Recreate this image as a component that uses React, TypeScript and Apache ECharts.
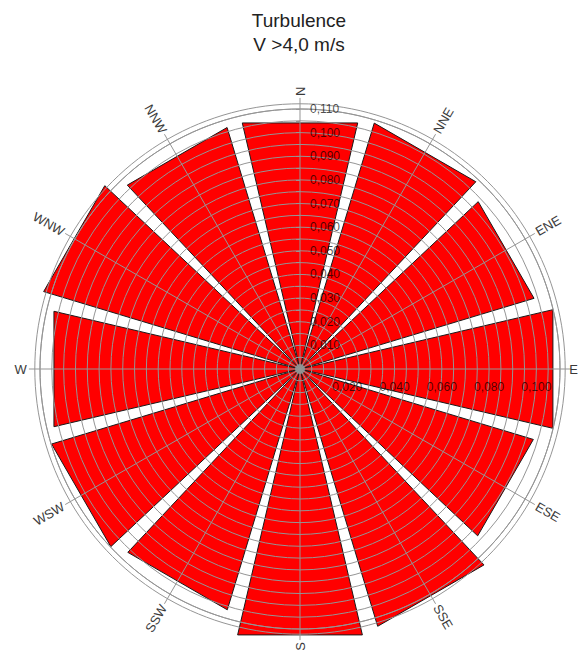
import React, { useEffect, useRef } from 'react';
import * as echarts from 'echarts';

const titleLines = ['Turbulence', 'V >4,0 m/s'];
const directions = ['N', 'NNE', 'ENE', 'E', 'ESE', 'SSE', 'S', 'SSW', 'WSW', 'W', 'WNW', 'NNW'];
const bearings = [0, 30, 60, 90, 120, 150, 180, 210, 240, 270, 300, 330];
const turbulence = [0.1041, 0.1058, 0.1007, 0.107, 0.1004, 0.1107, 0.1125, 0.1036, 0.1069, 0.1041, 0.1103, 0.1039];
const northTickValues = [0.01, 0.02, 0.03, 0.04, 0.05, 0.06, 0.07, 0.08, 0.09, 0.1, 0.11];
const northTickLabels = ['0,010', '0,020', '0,030', '0,040', '0,050', '0,060', '0,070', '0,080', '0,090', '0,100', '0,110'];
const eastTickValues = [0.02, 0.04, 0.06, 0.08, 0.1];
const eastTickLabels = ['0,020', '0,040', '0,060', '0,080', '0,100'];

const RADIUS_MAX = 0.11;
const SPOKE_R = 0.1147;
const FRAME_R = 0.1122;
const HALF_SECTOR = 13.2;
const FONT = 'Liberation Sans, Arial, Helvetica, sans-serif';
const GRID = '#959595';
const PAGE_W = 579;

const charW: Record<string, number> = { N: 0.722, E: 0.667, S: 0.667, W: 0.944 };

export default function App() {
  const ref = useRef<HTMLDivElement>(null);
  useEffect(() => {
    if (!ref.current) return;
    const chart = echarts.init(ref.current, undefined, { renderer: 'svg' });
    const option: any = {
      animation: false,
      backgroundColor: '#ffffff',
      graphic: titleLines.map((t, i) => ({
        type: 'text',
        x: 299,
        y: 20 + i * 24,
        style: {
          text: t,
          fill: '#222',
          fontSize: 19,
          fontFamily: FONT,
          align: 'center',
          verticalAlign: 'middle',
        },
      })),
      polar: { center: [300, 369], radius: 260 },
      angleAxis: {
        type: 'value',
        min: 0,
        max: 360,
        startAngle: 90,
        clockwise: true,
        z: 3,
        axisLine: { show: true, lineStyle: { color: GRID, width: 1 } },
        axisTick: { show: false },
        axisLabel: { show: false },
        splitLine: { show: false },
      },
      radiusAxis: {
        type: 'value',
        min: 0,
        max: RADIUS_MAX,
        interval: 0.005,
        z: 3,
        axisLine: { show: false },
        axisTick: { show: true, length: 4, lineStyle: { color: GRID } },
        axisLabel: { show: false },
        splitLine: { show: true, lineStyle: { color: GRID, width: 1 } },
      },
      series: [
        {
          type: 'custom',
          coordinateSystem: 'polar',
          z: 2,
          data: bearings.map((b, i) => [turbulence[i], b]),
          renderItem: (params: any, api: any) => {
            const v = api.value(0);
            const b = api.value(1);
            const rc = v / Math.cos((HALF_SECTOR * Math.PI) / 180);
            const c = api.coord([0, b]);
            const p1 = api.coord([rc, b - HALF_SECTOR]);
            const p2 = api.coord([rc, b + HALF_SECTOR]);
            return {
              type: 'polygon',
              shape: { points: [c, p1, p2] },
              style: { fill: '#ff0000', stroke: '#1a1a1a', lineWidth: 1 },
            };
          },
        },
        {
          type: 'custom',
          coordinateSystem: 'polar',
          z: 4,
          silent: true,
          data: [[FRAME_R, 0]],
          renderItem: (params: any, api: any) => {
            const c = api.coord([0, 0]);
            const p = api.coord([api.value(0), 0]);
            const r = Math.hypot(p[0] - c[0], p[1] - c[1]);
            return {
              type: 'group',
              children: [
                { type: 'circle', shape: { cx: c[0], cy: c[1], r }, style: { fill: 'none', stroke: GRID, lineWidth: 1 } },
                { type: 'circle', shape: { cx: c[0], cy: c[1], r: 5 }, style: { fill: '#8a8a8a', stroke: 'none' } },
              ],
            };
          },
        },
        {
          type: 'custom',
          coordinateSystem: 'polar',
          z: 4,
          silent: true,
          data: bearings.map((b) => [SPOKE_R, b]),
          renderItem: (params: any, api: any) => {
            const b = api.value(1);
            const c = api.coord([0, b]);
            const p = api.coord([api.value(0), b]);
            const dx = p[0] - c[0];
            const dy = p[1] - c[1];
            const len = Math.hypot(dx, dy);
            const ux = dx / len;
            const uy = dy / len;
            const label = directions[params.dataIndex];
            const fs = 13;
            let w = 0;
            for (const ch of label) w += (charW[ch] || 0.7) * fs;
            const off = 2 + w / 2;
            let rot = 90 - b;
            while (rot > 90) rot -= 180;
            while (rot <= -90) rot += 180;
            let tx = p[0] + ux * off;
            const ty = p[1] + uy * off;
            if (rot === 0 && tx + w / 2 > PAGE_W - 1) tx = PAGE_W - 1 - w / 2;
            return {
              type: 'group',
              children: [
                { type: 'line', shape: { x1: c[0], y1: c[1], x2: p[0], y2: p[1] }, style: { stroke: GRID, lineWidth: 1 } },
                {
                  type: 'text',
                  x: tx,
                  y: ty,
                  rotation: (rot * Math.PI) / 180,
                  style: {
                    text: label,
                    fill: '#3a3a3a',
                    fontSize: fs,
                    fontFamily: FONT,
                    align: 'center',
                    verticalAlign: 'middle',
                  },
                },
              ],
            };
          },
        },
        {
          type: 'custom',
          coordinateSystem: 'polar',
          z: 5,
          silent: true,
          data: northTickValues.map((v) => [v, 0]),
          renderItem: (params: any, api: any) => {
            const p = api.coord([api.value(0), api.value(1)]);
            return {
              type: 'text',
              x: p[0] + 10,
              y: p[1],
              style: {
                text: northTickLabels[params.dataIndex],
                fill: 'rgba(0,0,0,0.7)',
                fontSize: 12,
                fontFamily: FONT,
                align: 'left',
                verticalAlign: 'middle',
              },
            };
          },
        },
        {
          type: 'custom',
          coordinateSystem: 'polar',
          z: 5,
          silent: true,
          data: eastTickValues.map((v) => [v, 90]),
          renderItem: (params: any, api: any) => {
            const p = api.coord([api.value(0), api.value(1)]);
            return {
              type: 'text',
              x: p[0],
              y: p[1] + 18,
              style: {
                text: eastTickLabels[params.dataIndex],
                fill: 'rgba(0,0,0,0.7)',
                fontSize: 12,
                fontFamily: FONT,
                align: 'center',
                verticalAlign: 'middle',
              },
            };
          },
        },
      ],
    };
    chart.setOption(option);
    return () => chart.dispose();
  }, []);
  return (
    <div
      ref={ref}
      style={{ position: 'fixed', left: 0, top: 0, width: 579, height: 650, background: '#fff' }}
    />
  );
}
